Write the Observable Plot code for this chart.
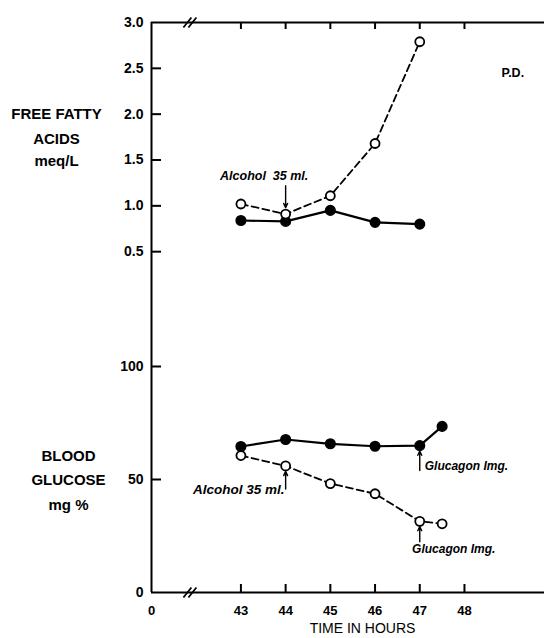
<!DOCTYPE html>
<html><head><meta charset="utf-8">
<script src="https://cdn.jsdelivr.net/npm/d3@7"></script>
<script src="https://cdn.jsdelivr.net/npm/@observablehq/plot@0.6"></script>
<style>
body{margin:0;background:#fff;}
#chart svg{display:block;}
</style></head>
<body><div id="chart"></div>
<script>
// ---- data ----
const hours = [43, 44, 45, 46, 47];
const ffaFilled = [0.84, 0.83, 0.95, 0.82, 0.80];
const ffaOpen = [1.02, 0.91, 1.11, 1.68, 2.79];
const glucoseHours = [43, 44, 45, 46, 47, 47.5];
const glucoseFilled = [64.6, 67.7, 65.8, 64.7, 65.0, 73.5];
const glucoseOpen = [60.6, 56.0, 48.2, 43.7, 31.5, 30.4];
const xTickValues = [41, 43, 44, 45, 46, 47, 48]; // 41 stands for the broken-axis "0"
const xMajorTicks = [43, 44, 45, 46, 47, 48];
const ffaTicks = [0.5, 1.0, 1.5, 2.0, 2.5, 3.0];
const glucoseTicks = [0, 50, 100];
const ffaLabelLines = [{text: "FREE FATTY", y: 2.0}, {text: "ACIDS", y: 1.725}, {text: "meq/L", y: 1.485}];
const glucoseLabelLines = [{text: "BLOOD", y: 60.2}, {text: "GLUCOSE", y: 49.6}, {text: "mg %", y: 38.5}];
const ffaNotes = [{text: "Alcohol  35 ml.", x: 43.52, y: 1.33}];
const ffaArrows = [{x: 44, y1: 1.22, y2: 0.98}];
const glucoseAlcoholNote = [{text: "Alcohol 35 ml.", x: 44, y: 45.3}];
const glucagonNoteFilled = [{text: "Glucagon Img.", x: 47, y: 55.9}];
const glucagonNoteOpen = [{text: "Glucagon Img.", x: 47.76, y: 19.0}];
const glucoseArrows = [
  {x: 44, y1: 45.8, y2: 53.6},
  {x: 47, y1: 54.0, y2: 62.6},
  {x: 47, y1: 22.4, y2: 29.2}
];
const breakAt = [41.87];

// ---- build ----
const W = 544;
const font = "'Liberation Sans', Arial, sans-serif";
const xDomain = [41, 49.79];
const xFmt = d => d === 41 ? "0" : String(d);
const zip = (xs, ys) => xs.map((x, i) => ({x, y: ys[i]}));
const breakSymbol = {draw(ctx) { ctx.moveTo(-7, 5); ctx.lineTo(1, -5); ctx.moveTo(-2, 5); ctx.lineTo(6, -5); }};
const baseStyle = {fontFamily: font, fontSize: "13px", fontWeight: "bold", color: "black", background: "white"};
const noteStyle = {x: "x", y: "y", text: "text", fontStyle: "italic", fontWeight: "bold"};

const topPlot = Plot.plot({
  width: W, height: 300, marginLeft: 151, marginRight: 0, marginTop: 22, marginBottom: 3,
  style: baseStyle,
  x: {domain: xDomain, axis: null},
  y: {domain: [0, 3]},
  marks: [
    Plot.ruleX([41], {strokeWidth: 2, insetBottom: -3}),
    Plot.ruleY([3], {strokeWidth: 2}),
    Plot.ruleY(ffaTicks.filter(d => d !== 3), {strokeWidth: 2, insetRight: W - 151 - 10}),
    Plot.ruleX(xMajorTicks, {strokeWidth: 2, insetBottom: 275 - 7}),
    Plot.axisY({ticks: ffaTicks, tickFormat: ".1f", tickSize: 0, tickPadding: 8, fontSize: 14, fontWeight: "bold", letterSpacing: 0.6, label: null}),
    Plot.dot(breakAt, {x: d => d, frameAnchor: "top", symbol: breakSymbol, fill: "none", stroke: "black", strokeWidth: 1.8}),
    Plot.line(zip(hours, ffaOpen), {x: "x", y: "y", stroke: "black", strokeWidth: 1.8, strokeDasharray: "7,4"}),
    Plot.line(zip(hours, ffaFilled), {x: "x", y: "y", stroke: "black", strokeWidth: 2.2}),
    Plot.dot(zip(hours, ffaFilled), {x: "x", y: "y", r: 4.8, fill: "black", stroke: "black"}),
    Plot.dot(zip(hours, ffaOpen), {x: "x", y: "y", r: 4.5, fill: "white", stroke: "black", strokeWidth: 1.8}),
    Plot.arrow(ffaArrows, {x1: "x", x2: "x", y1: "y1", y2: "y2", stroke: "black", strokeWidth: 1.4, headLength: 5, headAngle: 50}),
    Plot.text(ffaNotes, {...noteStyle, fontSize: 12.5, letterSpacing: 1.1}),
    Plot.text(["P.D."], {x: 49.08, y: 2.445, text: d => d, fontSize: 12.5, fontWeight: "bold"}),
    Plot.text(ffaLabelLines, {y: "y", text: "text", frameAnchor: "left", dx: -95, textAnchor: "middle", fontSize: 15, fontWeight: "bold", letterSpacing: 0.8})
  ]
});

const botPlot = Plot.plot({
  width: W, height: 338, marginLeft: 151, marginRight: 0, marginTop: 0, marginBottom: 46,
  style: baseStyle,
  x: {domain: xDomain},
  y: {domain: [0, 129.2]},
  marks: [
    Plot.ruleX([41], {strokeWidth: 2}),
    Plot.ruleY([0], {strokeWidth: 2}),
    Plot.ruleY(glucoseTicks.filter(d => d !== 0), {strokeWidth: 2, insetRight: W - 151 - 10}),
    Plot.ruleX(xMajorTicks, {strokeWidth: 2, insetTop: 292 - 8}),
    Plot.axisY({ticks: glucoseTicks, tickSize: 0, tickPadding: 8, fontSize: 14, fontWeight: "bold", letterSpacing: 0.6, label: null}),
    Plot.axisX({ticks: xTickValues, tickFormat: xFmt, tickSize: 0, tickPadding: 13, fontSize: 13, fontWeight: "bold", letterSpacing: 0.5, label: null}),
    Plot.dot(breakAt, {x: d => d, frameAnchor: "bottom", symbol: breakSymbol, fill: "none", stroke: "black", strokeWidth: 1.8}),
    Plot.line(zip(glucoseHours, glucoseOpen), {x: "x", y: "y", stroke: "black", strokeWidth: 1.8, strokeDasharray: "7,4"}),
    Plot.line(zip(glucoseHours, glucoseFilled), {x: "x", y: "y", stroke: "black", strokeWidth: 2.2}),
    Plot.dot(zip(glucoseHours, glucoseFilled), {x: "x", y: "y", r: 4.8, fill: "black", stroke: "black"}),
    Plot.dot(zip(glucoseHours, glucoseOpen), {x: "x", y: "y", r: 4.5, fill: "white", stroke: "black", strokeWidth: 1.8}),
    Plot.arrow(glucoseArrows, {x1: "x", x2: "x", y1: "y1", y2: "y2", stroke: "black", strokeWidth: 1.4, headLength: 5, headAngle: 50}),
    Plot.text(glucoseAlcoholNote, {...noteStyle, textAnchor: "end", dx: -1, fontSize: 13.5, letterSpacing: 1.4}),
    Plot.text(glucagonNoteFilled, {...noteStyle, textAnchor: "start", dx: 5, fontSize: 12, letterSpacing: 0.5}),
    Plot.text(glucagonNoteOpen, {...noteStyle, textAnchor: "middle", fontSize: 12, letterSpacing: 0.8}),
    Plot.text(glucoseLabelLines, {y: "y", text: "text", frameAnchor: "left", dx: -83, textAnchor: "middle", fontSize: 15, fontWeight: "bold", letterSpacing: 0.8}),
    Plot.text(["TIME IN HOURS"], {x: 45.72, text: d => d, frameAnchor: "bottom", dy: 40, fontSize: 14, fontWeight: "normal", letterSpacing: 0.8})
  ]
});

const chart = document.getElementById("chart");
chart.appendChild(topPlot);
chart.appendChild(botPlot);
</script>
</body></html>
